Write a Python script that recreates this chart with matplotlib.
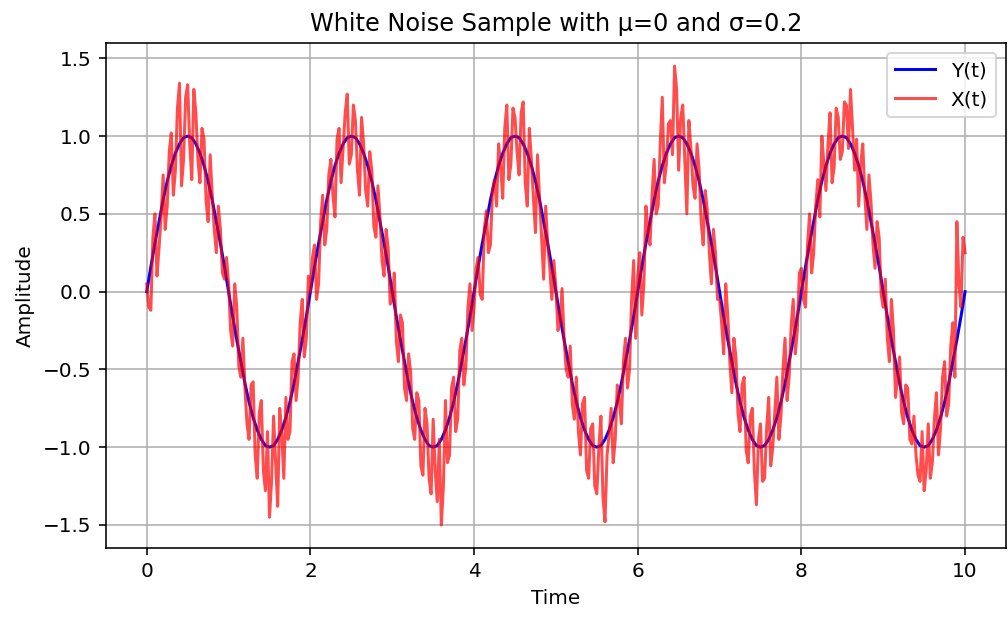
import numpy as np
import matplotlib
matplotlib.use("Agg")
import matplotlib.pyplot as plt

# 采样时间
t_y = np.linspace(0, 10, 201)   # Y(t) 步长 0.05
t_x = np.linspace(0, 10, 401)   # X(t) 步长 0.025

# Y(t): 干净信号
y_clean = [
    0.00, 0.16, 0.31, 0.45, 0.59, 0.71, 0.81, 0.89, 0.95, 0.99,
    1.00, 0.99, 0.95, 0.89, 0.81, 0.71, 0.59, 0.45, 0.31, 0.16,
    0.00, -0.16, -0.31, -0.45, -0.59, -0.71, -0.81, -0.89, -0.95, -0.99,
    -1.00, -0.99, -0.95, -0.89, -0.81, -0.71, -0.59, -0.45, -0.31, -0.16,
    0.00, 0.16, 0.31, 0.45, 0.59, 0.71, 0.81, 0.89, 0.95, 0.99,
    1.00, 0.99, 0.95, 0.89, 0.81, 0.71, 0.59, 0.45, 0.31, 0.16,
    0.00, -0.16, -0.31, -0.45, -0.59, -0.71, -0.81, -0.89, -0.95, -0.99,
    -1.00, -0.99, -0.95, -0.89, -0.81, -0.71, -0.59, -0.45, -0.31, -0.16,
    0.00, 0.16, 0.31, 0.45, 0.59, 0.71, 0.81, 0.89, 0.95, 0.99,
    1.00, 0.99, 0.95, 0.89, 0.81, 0.71, 0.59, 0.45, 0.31, 0.16,
    0.00, -0.16, -0.31, -0.45, -0.59, -0.71, -0.81, -0.89, -0.95, -0.99,
    -1.00, -0.99, -0.95, -0.89, -0.81, -0.71, -0.59, -0.45, -0.31, -0.16,
    0.00, 0.16, 0.31, 0.45, 0.59, 0.71, 0.81, 0.89, 0.95, 0.99,
    1.00, 0.99, 0.95, 0.89, 0.81, 0.71, 0.59, 0.45, 0.31, 0.16,
    0.00, -0.16, -0.31, -0.45, -0.59, -0.71, -0.81, -0.89, -0.95, -0.99,
    -1.00, -0.99, -0.95, -0.89, -0.81, -0.71, -0.59, -0.45, -0.31, -0.16,
    0.00, 0.16, 0.31, 0.45, 0.59, 0.71, 0.81, 0.89, 0.95, 0.99,
    1.00, 0.99, 0.95, 0.89, 0.81, 0.71, 0.59, 0.45, 0.31, 0.16,
    0.00, -0.16, -0.31, -0.45, -0.59, -0.71, -0.81, -0.89, -0.95, -0.99,
    -1.00, -0.99, -0.95, -0.89, -0.81, -0.71, -0.59, -0.45, -0.31, -0.16,
    0.00,
]

# X(t): 带噪声信号, 按图估读 (每行半个周期)
x_noisy = [
    0.05, -0.10, -0.12, 0.35, 0.50, 0.10, 0.28, 0.48, 0.75, 0.40, 0.55, 0.90, 1.02, 0.62, 0.78, 1.18, 1.34, 0.68, 0.85, 1.25,
    1.33, 0.95, 0.72, 1.30, 1.15, 0.85, 0.70, 1.05, 0.98, 0.58, 0.45, 0.88, 0.62, 0.40, 0.25, 0.55, 0.40, 0.12, 0.08, 0.22,
    0.05, -0.25, -0.35, 0.05, -0.10, -0.48, -0.55, -0.30, -0.62, -0.85, -0.95, -0.60, -0.58, -1.05, -1.20, -0.78, -0.70, -1.15, -1.28, -0.90,
    -1.45, -1.22, -0.80, -1.10, -1.38, -0.75, -0.92, -1.20, -0.68, -0.95, -0.90, -0.45, -0.40, -0.70, -0.55, -0.20, -0.05, -0.42, -0.30, 0.10,
    0.00, 0.22, 0.30, -0.05, 0.05, 0.45, 0.62, 0.30, 0.40, 0.75, 0.85, 0.62, 0.48, 0.98, 1.05, 0.70, 0.92, 1.15, 1.27, 0.82,
    0.88, 1.20, 1.10, 0.78, 0.62, 1.12, 0.95, 0.65, 0.55, 0.90, 0.78, 0.42, 0.35, 0.68, 0.48, 0.20, 0.10, 0.40, 0.28, -0.08,
    -0.05, 0.12, -0.32, -0.45, -0.15, -0.20, -0.62, -0.70, -0.40, -0.52, -0.88, -0.95, -0.65, -0.70, -1.12, -1.18, -0.75, -0.85, -1.20, -1.30,
    -0.82, -1.15, -1.35, -0.95, -1.50, -1.25, -0.70, -1.10, -1.05, -0.62, -0.55, -0.90, -0.82, -0.38, -0.30, -0.60, -0.48, -0.10, 0.05, -0.25,
    -0.10, 0.15, 0.22, -0.02, -0.05, 0.40, 0.52, 0.25, 0.30, 0.65, 0.72, 0.55, 0.95, 0.80, 0.60, 1.05, 1.20, 0.72, 0.82, 1.18,
    1.12, 0.90, 0.75, 1.15, 1.22, 0.70, 0.55, 1.05, 0.85, 0.60, 0.38, 0.88, 0.60, 0.35, 0.08, 0.55, 0.30, 0.15, -0.05, 0.20,
    0.02, -0.25, -0.20, 0.02, -0.30, -0.50, -0.55, -0.35, -0.72, -0.82, -0.55, -0.90, -1.05, -0.72, -0.68, -1.15, -1.20, -0.88, -0.85, -1.25,
    -1.30, -1.00, -0.80, -1.32, -1.48, -1.05, -0.92, -0.75, -1.10, -0.95, -0.60, -0.70, -0.85, -0.45, -0.30, -0.62, -0.50, -0.05, 0.20, -0.30,
    0.10, 0.25, -0.15, 0.05, 0.55, 0.40, 0.30, 0.62, 0.85, 0.50, 0.55, 0.95, 1.25, 0.70, 0.82, 1.08, 1.10, 0.88, 1.45, 1.30,
    0.78, 1.12, 1.20, 0.85, 0.50, 1.10, 0.92, 0.68, 0.60, 0.95, 0.78, 0.45, 0.30, 0.65, 0.52, 0.25, 0.05, 0.40, 0.25, -0.05,
    -0.05, -0.20, -0.40, 0.05, -0.15, -0.45, -0.65, -0.30, -0.42, -0.78, -0.90, -0.60, -0.55, -1.02, -1.10, -0.80, -0.75, -1.15, -1.37, -0.95,
    -0.85, -1.22, -1.20, -0.88, -0.68, -1.12, -1.00, -0.78, -0.55, -0.95, -0.80, -0.50, -0.30, -0.70, -0.55, -0.22, -0.05, -0.40, -0.25, 0.12,
    0.15, -0.05, -0.10, 0.30, 0.50, 0.12, 0.25, 0.55, 0.72, 0.48, 1.00, 0.82, 0.65, 0.95, 1.15, 0.70, 0.80, 1.18, 1.12, 0.85,
    0.90, 1.22, 1.20, 0.92, 1.30, 1.05, 0.78, 0.98, 0.55, 0.82, 0.95, 0.62, 0.40, 0.75, 0.58, 0.30, 0.15, 0.45, 0.35, -0.02,
    -0.10, 0.08, -0.30, -0.45, -0.05, -0.25, -0.68, -0.55, -0.42, -0.78, -0.85, -0.60, -0.62, -0.95, -0.98, -0.80, -1.05, -1.18, -1.22, -0.90,
    -1.28, -1.15, -0.85, -1.20, -1.10, -0.82, -0.65, -1.05, -0.88, -0.55, -0.45, -0.80, -0.72, -0.35, -0.20, -0.55, 0.45, 0.05, -0.10, 0.35,
    0.25,
]


def main():
    fig = plt.figure(figsize=(7.0, 4.285), dpi=144)
    ax = fig.add_axes([0.105, 0.112, 0.893, 0.818])

    ax.plot(t_y, y_clean, color="blue", label="Y(t)")
    ax.plot(t_x, x_noisy, color="red", alpha=0.7, label="X(t)")

    ax.set_title("White Noise Sample with μ=0 and σ=0.2")
    ax.set_xlabel("Time")
    ax.set_ylabel("Amplitude")
    ax.grid(True)
    ax.legend(loc="upper right")

    fig.savefig("out.png", dpi=144)
    plt.close(fig)


if __name__ == "__main__":
    main()
